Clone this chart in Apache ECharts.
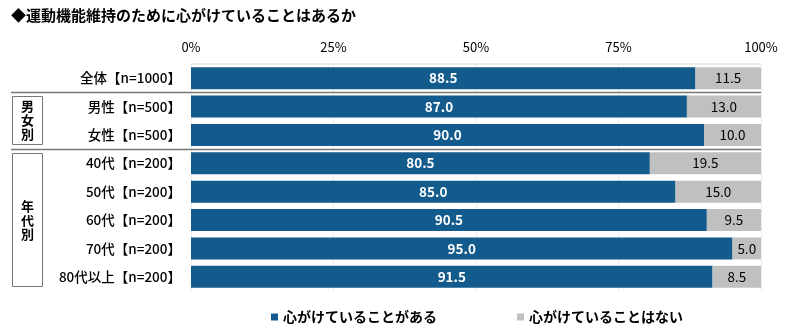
<!DOCTYPE html>
<html><head><meta charset="utf-8">
<script src="https://cdn.jsdelivr.net/npm/echarts@6/dist/echarts.min.js"></script>
<style>html,body{margin:0;padding:0;background:#fff}#c{width:800px;height:334px}</style>
</head><body><div id="c"></div>
<script>
const categories = ['全体【n=1000】','男性【n=500】','女性【n=500】','40代【n=200】','50代【n=200】','60代【n=200】','70代【n=200】','80代以上【n=200】'];
const seriesNames = ['心がけていることがある','心がけていることはない'];
const valuesYes = [88.5, 87.0, 90.0, 80.5, 85.0, 90.5, 95.0, 91.5];
const valuesNo = [11.5, 13.0, 10.0, 19.5, 15.0, 9.5, 5.0, 8.5];
const tickLabels = ['0%','25%','50%','75%','100%'];
const titleText = '◆運動機能維持のために心がけていることはあるか';
const groups = [{label:'男\n女\n別', from:1, to:2}, {label:'年\n代\n別', from:3, to:7}];

const FONT = '"Noto Sans CJK JP", sans-serif';
const chart = echarts.init(document.getElementById('c'));
const option = {
  backgroundColor: '#fff',
  animation: false,
  textStyle: {fontFamily: FONT},
  title: {text: titleText, left: 6, top: 3, textStyle: {fontSize: 15, fontWeight: 'bold', color: '#000', fontFamily: FONT}},
  legend: {bottom: 5, left: 266, itemGap: 80, itemWidth: 7, itemHeight: 7, icon: 'rect',
    textStyle: {fontSize: 14, fontWeight: 'bold', color: '#000', fontFamily: FONT}, data: seriesNames},
  grid: {left: 191, right: 39, top: 64, bottom: 43},
  xAxis: {type: 'value', position: 'top', min: 0, max: 100, interval: 25,
    axisLine: {show: false}, axisTick: {show: false},
    splitLine: {show: true, lineStyle: {color: '#ececec'}},
    axisLabel: {fontSize: 13, color: '#000', margin: 10, formatter: v => tickLabels[v/25]}},
  yAxis: {type: 'category', inverse: true, data: categories,
    axisLine: {show: false}, axisTick: {show: false},
    axisLabel: {fontSize: 13.5, color: '#000', margin: 10, fontWeight: 500}},
  series: [
    {name: seriesNames[0], type: 'bar', stack: 'a', data: valuesYes, barWidth: 22,
     itemStyle: {color: '#135a8d'},
     label: {show: true, position: 'inside', color: '#fff', fontSize: 13.5, fontWeight: 'bold', formatter: p => p.value.toFixed(1)}},
    {name: seriesNames[1], type: 'bar', stack: 'a', data: valuesNo, barWidth: 22,
     itemStyle: {color: '#c0c0c0'},
     label: {show: true, position: 'inside', color: '#000', fontSize: 13.5, formatter: p => p.value.toFixed(1)}}
  ]
};
chart.setOption(option);

function drawDecor(){
  const y = i => chart.convertToPixel({yAxisIndex:0}, categories[i]);
  const x0 = chart.convertToPixel({xAxisIndex:0}, 0);
  const x1 = chart.convertToPixel({xAxisIndex:0}, 100);
  const step = y(1) - y(0);
  const els = [];
  els.push({type:'line', shape:{x1:x0, y1:y(0)-step/2, x2:x1, y2:y(0)-step/2}, style:{stroke:'#d8d8d8', lineWidth:1}});
  [1,3].forEach(i => {
    const yy = Math.round(y(i) - step/2) + 0.5;
    els.push({type:'line', shape:{x1:11, y1:yy, x2:x1, y2:yy}, style:{stroke:'#777', lineWidth:1.5}});
  });
  groups.forEach(g => {
    const top = y(g.from) - step/2 + 4, bot = y(g.to) + step/2 - 5;
    els.push({type:'rect', shape:{x:12.5, y:Math.round(top)+0.5, width:30, height:Math.round(bot-top)}, style:{fill:'none', stroke:'#777', lineWidth:1}});
    els.push({type:'text', x:27.5, y:(top+bot)/2, style:{text:g.label, fontSize:13, fontWeight:'bold', fill:'#000', align:'center', verticalAlign:'middle', lineHeight:14, fontFamily:FONT}});
  });
  chart.setOption({graphic: els});
}
drawDecor();
</script></body></html>
